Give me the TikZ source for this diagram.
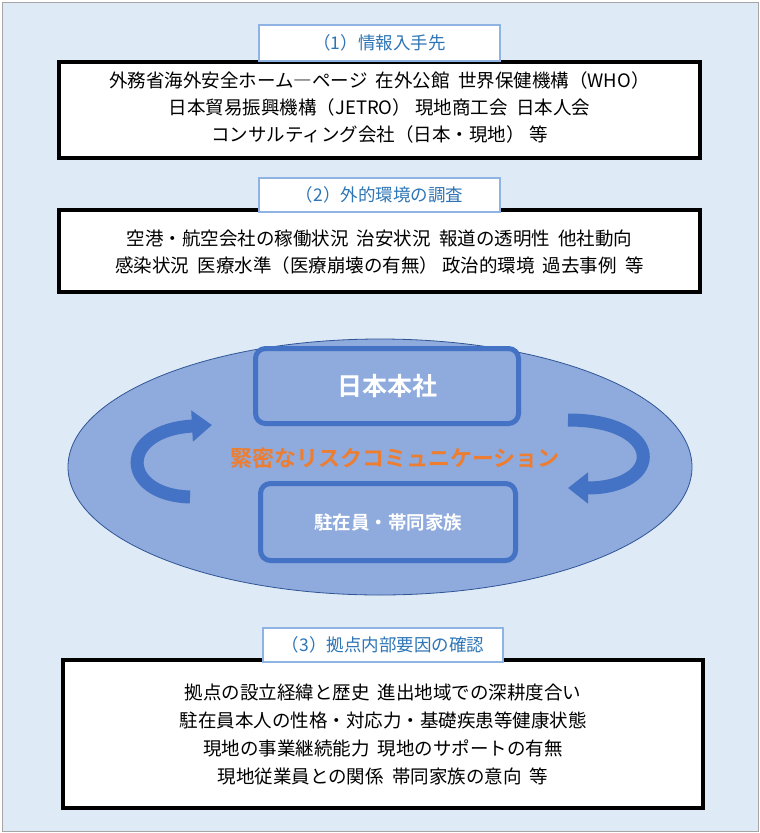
\documentclass[tikz,border=0pt]{standalone}
\usepackage{fontspec}
\setmainfont{Noto Sans CJK JP}
\newfontfamily\cjkb{Noto Sans CJK JP Bold}
\usetikzlibrary{arrows.meta}
\definecolor{bgc}{HTML}{DEEAF6}
\definecolor{ttl}{HTML}{2E75B6}
\definecolor{ttlb}{HTML}{8FB4E3}
\definecolor{elf}{HTML}{8FAADC}
\definecolor{eld}{HTML}{2F5597}
\definecolor{bx}{HTML}{4472C4}
\definecolor{org}{HTML}{ED7D31}
\tikzset{
 titlebox/.style={draw=ttlb,line width=1.2pt,fill=white,minimum width=241pt,minimum height=36pt,text=ttl,font=\fontsize{17.5}{20}\selectfont,inner sep=0pt},
 infobox/.style={draw=black,line width=4pt,fill=white,inner sep=0pt},
 infotext/.style={font=\fontsize{18.5}{22}\selectfont,align=center},
 corebox/.style={draw=bx,line width=5pt,fill=elf,rounded corners=10pt,inner sep=0pt,text=white},
 rib/.style={draw=bx,line width=13pt,-{Triangle[width=30pt,length=20pt]}}
}
\begin{document}
\begin{tikzpicture}[x=1pt,y=-1pt]
\useasboundingbox (0,0) rectangle (760,833);
\node[draw=gray!70,fill=bgc,minimum width=756pt,minimum height=829pt,inner sep=0pt] (bg) at (380,416.5) {};
% box 1
\node[infobox,minimum width=641pt,minimum height=96pt] (b1) at (379.5,110) {};
\node[titlebox] (t1) at (379.5,43) {（1）情報入手先};
\node[infotext] (b1a) at (379.5,80) {外務省海外安全ホーム―ページ\ \ 在外公館\ \ 世界保健機構（WHO）};
\node[infotext] (b1b) at (379.5,107) {日本貿易振興機構（JETRO）\ 現地商工会\ \ 日本人会};
\node[infotext] (b1c) at (379.5,134) {コンサルティング会社（日本・現地）\ 等};
% box 2
\node[infobox,minimum width=641pt,minimum height=82pt] (b2) at (379.5,251) {};
\node[titlebox,minimum height=34pt] (t2) at (379.5,195) {（2）外的環境の調査};
\node[infotext] (b2a) at (379.5,239) {空港・航空会社の稼働状況\ \ 治安状況\ \ 報道の透明性\ \ 他社動向};
\node[infotext] (b2b) at (379.5,265) {感染状況\ \ 医療水準（医療崩壊の有無）\ 政治的環境\ \ 過去事例\ \ 等};
% ellipse
\draw[draw=eld,fill=elf,line width=0.8pt] (380,467) ellipse [x radius=312, y radius=128];
\node[corebox,minimum width=263pt,minimum height=75pt] (hq) at (387,386) {\cjkb\fontsize{25}{28}\selectfont 日本本社};
\node[corebox,minimum width=255pt,minimum height=77pt] (exp) at (388,522) {\cjkb\fontsize{18.5}{22}\selectfont 駐在員・帯同家族};
\coordinate (la) at (190,497);
\coordinate (lb) at (212,425);
\coordinate (ra) at (568,420);
\coordinate (rb) at (568,488);
\draw[rib] (la) .. controls (120,495) and (118,430) .. (lb);
\draw[rib,draw=bx] (ra) .. controls (665,420) and (665,488) .. (rb);
\node[text=org,font=\cjkb\fontsize{22}{26}\selectfont] (rc) at (395,458) {緊密なリスクコミュニケーション};
% box 3
\node[infobox,minimum width=640pt,minimum height=148pt] (b3) at (383,734) {};
\node[titlebox,minimum width=240pt,minimum height=34pt] (t3) at (383,645) {（3）拠点内部要因の確認};
\node[infotext] (b3a) at (383,692) {拠点の設立経緯と歴史\ \ 進出地域での深耕度合い};
\node[infotext] (b3b) at (383,720) {駐在員本人の性格・対応力・基礎疾患等健康状態};
\node[infotext] (b3c) at (383,748) {現地の事業継続能力\ \ 現地のサポートの有無};
\node[infotext] (b3d) at (383,776) {現地従業員との関係\ \ 帯同家族の意向\ \ 等};
\end{tikzpicture}
\end{document}
